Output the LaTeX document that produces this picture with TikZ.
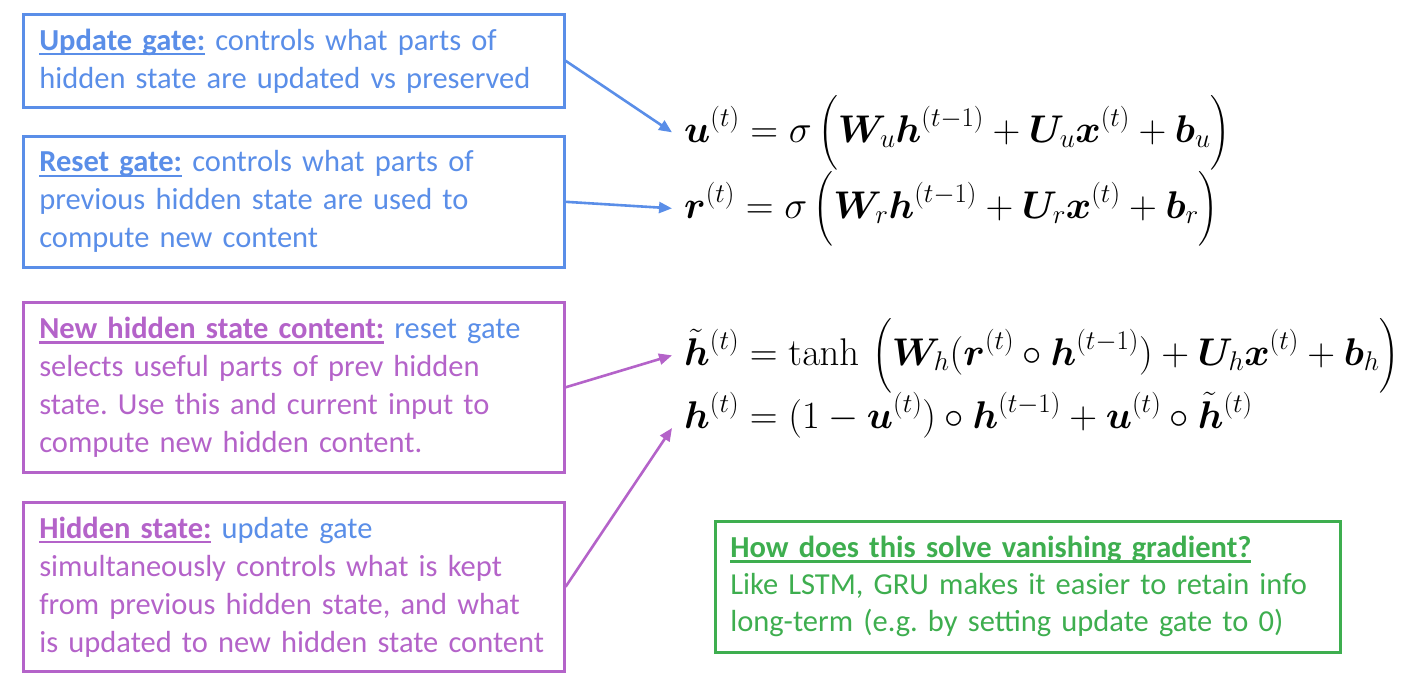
\RequirePackage{fix-cm}
\documentclass[tikz,border=0pt]{standalone}
\usepackage{amsmath,bm}
\usepackage[no-math]{fontspec}
\setmainfont{Carlito}
\usetikzlibrary{arrows.meta,positioning}
\definecolor{GateBlue}{HTML}{5A8EE8}
\definecolor{StatePurple}{HTML}{B463C9}
\definecolor{NoteGreen}{HTML}{3EAE4F}
\newcommand{\headline}[1]{\textbf{\setbox0\hbox{#1}\rlap{\rule[-5pt]{\wd0}{2.4pt}}\box0}}
\frenchspacing

\begin{document}
\begin{tikzpicture}[x=1pt,y=-1pt,
  box/.style={draw,line width=2.6pt,anchor=north west,inner xsep=16pt,inner ysep=0pt,
    text width=509pt,align=left,font=\fontsize{30.5}{38}\selectfont},
  eq/.style={anchor=base west,inner xsep=12pt,inner ysep=0pt,font=\fontsize{38.6}{46}\selectfont},
  link/.style={line width=2.6pt,-{Triangle[length=13pt,width=11pt]}}]
\useasboundingbox (0,0) rectangle (1402,686);
% gates
\node[box,draw=GateBlue,text=GateBlue,minimum height=93pt] (upd) at (22,13)
  {\headline{Update gate:} controls what parts of\\hidden state are updated vs preserved};
\node[box,draw=GateBlue,text=GateBlue,minimum height=131pt] (rst) at (22,135)
  {\headline{Reset gate:} controls what parts of\\previous hidden state are used to\\compute new content};
% states
\node[box,draw=StatePurple,text=StatePurple,minimum height=170pt] (cand) at (22,301)
  {\headline{New hidden state content:} {\color{GateBlue}reset gate}\\selects useful parts of prev hidden\\state. Use this and current input to\\compute new hidden content.};
\node[box,draw=StatePurple,text=StatePurple,minimum height=169pt] (hid) at (22,501)
  {\headline{Hidden state:} {\color{GateBlue}update gate}\\simultaneously controls what is kept\\from previous hidden state, and what\\\mbox{is updated to new hidden state content}};
\node[box,draw=NoteGreen,text=NoteGreen,text width=595pt,inner xsep=15pt,minimum height=131pt,
  font=\fontsize{30.5}{37}\selectfont] (why) at (714,520)
  {\headline{How does this solve vanishing gradient?}\\Like LSTM, GRU makes it easier to retain info\\long-term (e.g. by setting update gate to 0)};
% equations
\node[eq] (eqU) at (672,142)
  {$\displaystyle \bm{u}^{(t)} = \sigma\,\Big(\bm{W}_u\bm{h}^{(t-1)} + \bm{U}_u\bm{x}^{(t)} + \bm{b}_u\Big)$};
\node[eq] (eqR) at (672,218)
  {$\displaystyle \bm{r}^{(t)} = \sigma\,\Big(\bm{W}_r\bm{h}^{(t-1)} + \bm{U}_r\bm{x}^{(t)} + \bm{b}_r\Big)$};
\node[eq] (eqC) at (672,365)
  {$\displaystyle \tilde{\bm{h}}^{(t)} = \tanh\,\Big(\bm{W}_h(\bm{r}^{(t)}\circ\bm{h}^{(t-1)}) + \bm{U}_h\bm{x}^{(t)} + \bm{b}_h\Big)$};
\node[eq] (eqH) at (672,428)
  {$\displaystyle \bm{h}^{(t)} = (1-\bm{u}^{(t)})\circ\bm{h}^{(t-1)} + \bm{u}^{(t)}\circ\tilde{\bm{h}}^{(t)}$};
% arrows
\draw[link,GateBlue] (upd.east) -- (eqU.west);
\draw[link,GateBlue] (rst.east) -- (eqR.west);
\draw[link,StatePurple] (cand.east) -- (eqC.west);
\draw[link,StatePurple] (hid.east) -- (eqH.base west);
\end{tikzpicture}
\end{document}
